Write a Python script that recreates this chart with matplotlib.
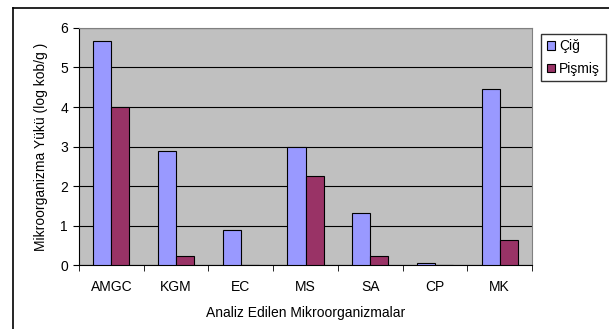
import numpy as np
from matplotlib import pyplot as plt
from matplotlib.lines import Line2D

kategoriler = ['AMGC', 'KGM', 'EC', 'MS', 'SA', 'CP', 'MK']
cig = [5.68, 2.89, 0.89, 3.0, 1.32, 0.06, 4.45]
pismis = [4.0, 0.22, 0.0, 2.26, 0.24, 0.0, 0.63]
yticks = [0, 1, 2, 3, 4, 5, 6]

plt.rcParams['font.family'] = ['Liberation Sans', 'DejaVu Sans']
plt.rcParams['font.size'] = 10

fig = plt.figure(figsize=(6.09, 3.29), dpi=100)
ax = fig.add_axes([0.1297, 0.1945, 0.7439, 0.7204])

x = np.arange(len(kategoriler))
w = 0.28
ax.bar(x - w/2, cig, w, color='#9999ff', edgecolor='black', linewidth=0.8, label='Çiğ', zorder=3)
ax.bar(x + w/2, pismis, w, color='#993366', edgecolor='black', linewidth=0.8, label='Pişmiş', zorder=3)

ax.set_facecolor('#c0c0c0')
ax.set_xlim(-0.5, len(kategoriler) - 0.5)
ax.set_ylim(0, 6)
ax.set_yticks(yticks)
ax.yaxis.grid(True, color='black', linewidth=0.8, zorder=0)
ax.set_xticks(x)
ax.set_xticklabels(kategoriler)
ax.set_xticks(np.arange(len(kategoriler) + 1) - 0.5, minor=True)
ax.tick_params(axis='x', which='major', length=0, pad=11)
ax.tick_params(axis='x', which='minor', length=4, direction='out')
ax.tick_params(axis='y', length=4, direction='out', pad=4)
for s in ['top', 'right']:
    ax.spines[s].set_color('#808080')
for s in ['left', 'bottom']:
    ax.spines[s].set_color('black')

ax.set_xlabel('Analiz Edilen Mikroorganizmalar', labelpad=8.5)
ax.set_ylabel('Mikroorganizma Yükü (log kob/g )', labelpad=9)

leg = ax.legend(loc='upper left', bbox_to_anchor=(1.02, 0.975), frameon=True,
                fancybox=False, edgecolor='black', handlelength=0.6, handleheight=0.6,
                handletextpad=0.3, borderpad=0.4, labelspacing=0.6, borderaxespad=0)
for p in leg.get_patches():
    p.set_linewidth(0.8)

# chart area border
fig.add_artist(Line2D([13/609, 13/609], [0, 1 - 8/329], color='black', linewidth=1.2, transform=fig.transFigure))
fig.add_artist(Line2D([13/609, 1], [1 - 8/329, 1 - 8/329], color='black', linewidth=1.2, transform=fig.transFigure))

plt.savefig('out.png', dpi=100)
